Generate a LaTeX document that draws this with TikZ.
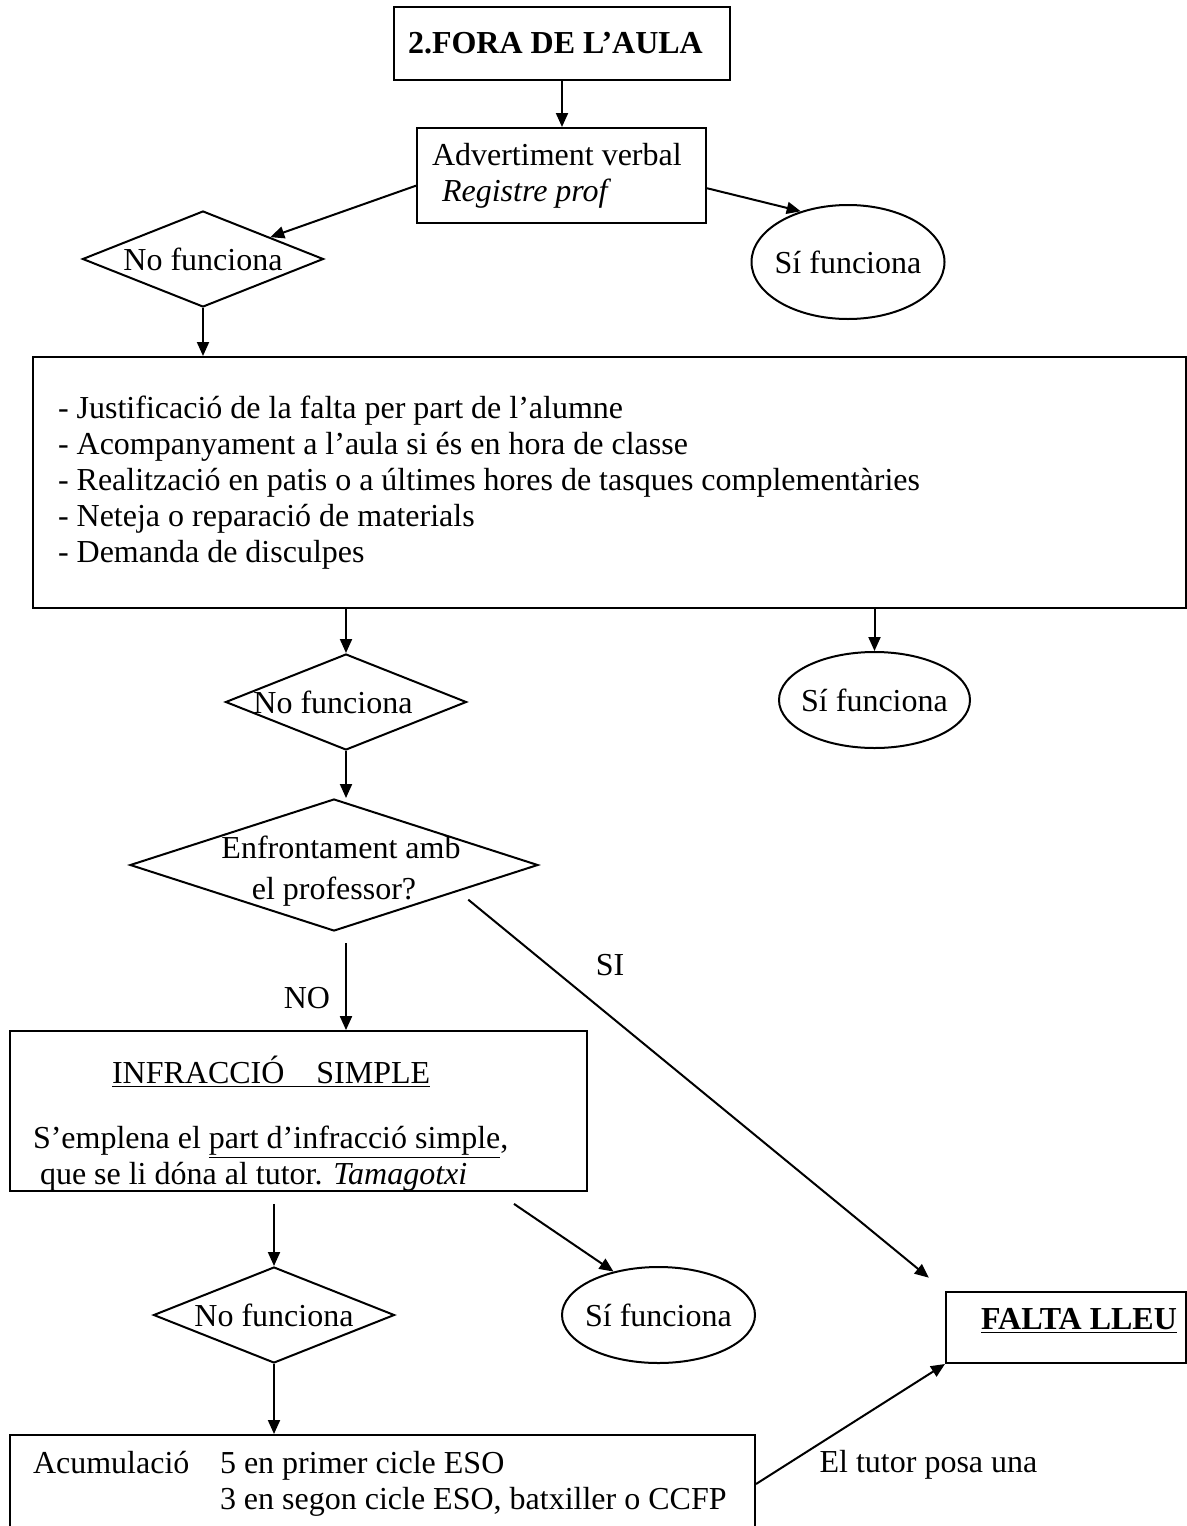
\documentclass[tikz,border=0pt]{standalone}
\usepackage{fontspec}
\setmainfont{Liberation Serif}
\usetikzlibrary{shapes.geometric,arrows.meta}

% zero width text, so the shape keeps its own size
\newcommand{\ctr}[1]{\makebox[0pt]{#1}}

\begin{document}
\begin{tikzpicture}[x=0.5pt, y=-0.5pt, line width=1pt,
    font=\fontsize{16}{18}\selectfont,
    box/.style={draw, rectangle, inner ysep=0pt, align=flush left,
        execute at begin node={\spaceskip=0pt\xspaceskip=0pt\relax}},
    dia/.style={draw, diamond, inner sep=0pt, minimum width=120.5pt, minimum height=48pt},
    oval/.style={draw, ellipse, inner sep=0pt, minimum width=96.5pt, minimum height=48pt},
    arr/.style={-{Triangle[length=7pt,width=6pt]}}]
    \useasboundingbox (0,0) rectangle (1187,1526);

    % Draw the boxes
    \node[box, text width=154pt, inner xsep=7pt, minimum height=36.5pt] (title) at (562,43.5) {\textbf{2.FORA DE L’AULA}};
    \node[box, text width=129.5pt, inner xsep=7.5pt, minimum height=47.5pt] (advert) at (561.5,175.5)
        {Advertiment verbal\\ \hspace*{5pt}\textit{Registre prof}};
    \node[box, text width=551.5pt, inner xsep=12.5pt, minimum height=125.5pt] (acts) at (609.5,482.5)
        {- Justificació de la falta per part de l’alumne\\
         - Acompanyament a l’aula si és en hora de classe\\
         - Realització en patis o a últimes hores de tasques complementàries\\
         - Neteja o reparació de materials\\
         - Demanda de disculpes};
    \node[box, text width=265.5pt, inner xsep=11.5pt, minimum height=72pt] (infr) at (298.5,1111)
        {\rule{0pt}{26pt}\hspace*{39.5pt}\underline{INFRACCIÓ\hspace{16pt}SIMPLE}\\[14.5pt]
         S’emplena el \underline{part d’infracció simple},\\
         \hspace*{3.5pt}que se li dóna al tutor. \textit{Tamagotxi}};
    \node[box, inner xsep=0pt, minimum width=120pt, minimum height=35.5pt] (falta) at (1066,1327.5)
        {\rule[-9.5pt]{0pt}{20.5pt}\hspace*{13pt}\textbf{\underline{FALTA LLEU}}};
    \node[box, text width=349.5pt, inner xsep=11.5pt, minimum height=49pt] (acum) at (382.5,1484)
        {\makebox[93.5pt][l]{Acumulació}5 en primer cicle ESO\\
         \hspace*{93.5pt}3 en segon cicle ESO, batxiller o CCFP};

    % Draw the diamonds and ovals
    \node[dia] (nf1) at (203,259) {\ctr{No funciona}};
    \node[oval, minimum height=57pt] (si1) at (848,262) {\ctr{Sí funciona}};
    \node[dia] (nf2) at (346,702) {\ctr{\hspace{-13pt}No funciona}};
    \node[oval, minimum width=95.5pt] (si2) at (874.5,700) {\ctr{Sí funciona}};
    \node[dia, minimum width=204pt, minimum height=66pt] (enf) at (334,865)
        {\ctr{\rule{0pt}{30pt}\begin{tabular}{@{}c@{}}\hspace{7pt}Enfrontament amb\\[2.5pt]el professor?\end{tabular}}};
    \node[dia] (nf4) at (274,1315) {\ctr{No funciona}};
    \node[oval] (si3) at (658.5,1315) {\ctr{Sí funciona}};

    % Labels on the arrows
    \node (no) at (307,998) {NO};
    \node (si) at (610,965) {SI};
    \node (tutor) at (928.5,1465) {El tutor posa una};

    % Draw the arrows
    \draw[arr] (title.south) -- (title.south |- advert.north);
    \draw[arr] (advert.184.5) -- (nf1.18);
    \draw[arr] (advert.355.5) -- (si1.133);
    \draw[arr] (nf1.south) -- (nf1.south |- acts.north);
    \draw[arr] (nf2.north |- acts.south) -- (nf2.north);
    \draw[arr] (si2.north |- acts.south) -- (si2.north);
    \draw[arr] (nf2.south) -- (nf2.south |- enf.north);
    \draw[arr, shorten <=5.5pt] (nf2.south |- enf.south) -- (nf2.south |- infr.north);
    \draw[arr, shorten <=6.5pt, shorten >=10.5pt] (enf.-12.7) -- (falta.north west);
    \draw[arr, shorten <=6pt] (nf4.north |- infr.south) -- (nf4.north);
    \draw[arr] ([shift={(-74,12)}]infr.south east) -- (si3.136);
    \draw[arr] (nf4.south) -- (nf4.south |- acum.north);
    \draw[arr] (acum.east) -- (falta.south west);
\end{tikzpicture}
\end{document}
